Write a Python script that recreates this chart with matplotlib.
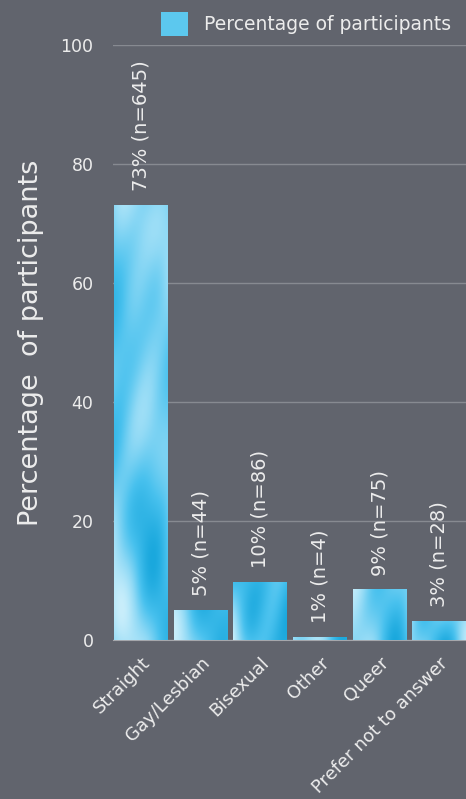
import numpy as np
import matplotlib.pyplot as plt
from matplotlib.colors import LinearSegmentedColormap
from matplotlib.patches import Patch

categories = ["Straight", "Gay/Lesbian", "Bisexual", "Other", "Queer", "Prefer not to answer"]
counts = [645, 44, 86, 4, 75, 28]
percent = [73.1, 5.0, 9.8, 0.5, 8.5, 3.2]
labels = ["73% (n=645)", "5% (n=44)", "10% (n=86)", "1% (n=4)", "9% (n=75)", "3% (n=28)"]

bg = "#61646d"
fg = "#ececec"
plt.rcParams["font.family"] = ["DejaVu Sans"]

fig = plt.figure(figsize=(4.66, 7.99), dpi=100, facecolor=bg)
ax = fig.add_axes([113 / 466, 1 - 640 / 799, 353 / 466, 595 / 799], facecolor=bg)

x = np.arange(len(categories))
bars = ax.bar(x, percent, width=0.9, color="#5cc8ee", zorder=2)

# soft watercolour fill inside each bar
water = LinearSegmentedColormap.from_list("water", ["#1aa8dd", "#48c1ee", "#8fd9f5", "#c9eefb"])
gy, gx = np.mgrid[0:1:200j, 0:1:60j]
for i, b in enumerate(bars):
    h = b.get_height()
    top = max(h, 12)
    yy = gy * top / 12.0
    field = (np.sin(gx * 5 + i * 1.7 + np.sin(yy * 1.3) * 1.5) * 0.3
             + np.sin(yy * 2.1 + gx * 3 + i) * 0.3
             + np.cos(gx * 9 - yy * 3.3 + i * 0.6) * 0.12
             + 0.3 * np.cos(gx * 3.1 + yy * 0.7))
    im = ax.imshow(field, cmap=water, aspect="auto", origin="lower",
                   extent=(b.get_x(), b.get_x() + b.get_width(), 0, top),
                   zorder=3, interpolation="bicubic")
    im.set_clip_path(b)

for xi, p, lab in zip(x, percent, labels):
    ax.annotate(lab, (xi, p), xytext=(0, 10), textcoords="offset points",
                rotation=90, ha="center", va="bottom", color=fg, fontsize=14)

ax.set_xlim(-0.47, 5.45)
ax.set_ylim(0, 100)
ax.set_yticks(range(0, 101, 20))
ax.set_xticks(x)
ax.set_xticklabels(categories, rotation=45, ha="right", rotation_mode="anchor")
ax.tick_params(colors=fg, labelsize=12.5, length=0, pad=14)
ax.tick_params(axis="x", pad=10, labelsize=13)
ax.yaxis.grid(True, color="#878a91", linewidth=1, zorder=0)
ax.set_axisbelow(True)
for s in ["top", "right", "left"]:
    ax.spines[s].set_visible(False)
ax.spines["bottom"].set_color("#a5a7ac")

ax.set_ylabel("Percentage  of participants", color=fg, fontsize=19.5, labelpad=12)

fig.legend(handles=[Patch(facecolor="#5cc8ee", label="Percentage of participants")],
           loc="upper right", bbox_to_anchor=(0.985, 0.994), frameon=False,
           fontsize=13.5, labelcolor=fg, handlelength=1.4, handleheight=1.6,
           handletextpad=0.9, borderaxespad=0.0)

fig.savefig("out.png", dpi=100, facecolor=bg)
